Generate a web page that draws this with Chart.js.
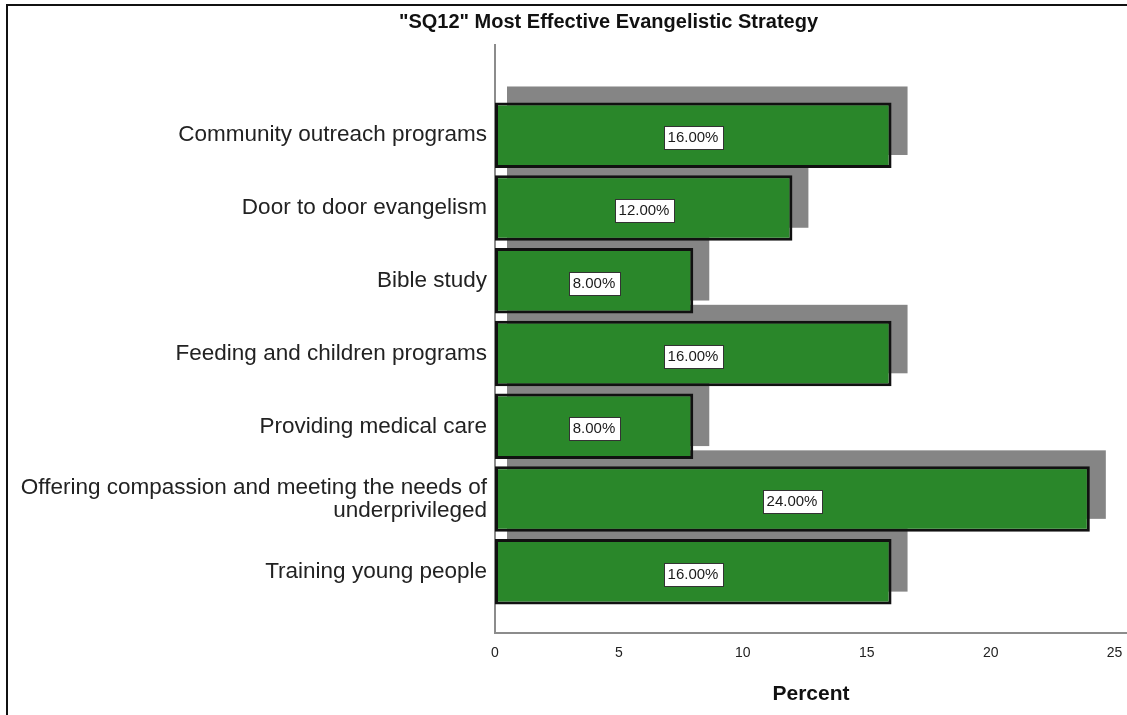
<!DOCTYPE html>
<html>
<head>
<meta charset="utf-8">
<script src="https://cdn.jsdelivr.net/npm/chart.js@4.4.1/dist/chart.umd.min.js"></script>
<style>
  html, body { margin: 0; padding: 0; background: #fff; overflow: hidden; }
  #wrap { position: relative; width: 1127px; height: 715px; }
</style>
</head>
<body>
<div id="wrap"><canvas id="chart" width="1127" height="715"></canvas></div>
<script>
// Strategy categories, top to bottom
const categories = [
  'Community outreach programs',
  'Door to door evangelism',
  'Bible study',
  'Feeding and children programs',
  'Providing medical care',
  ['Offering compassion and meeting the needs of', 'underprivileged'],
  'Training young people'
];
// Share of respondents (%)
const percents = [16, 12, 8, 16, 8, 24, 16];
const percentTicks = [0, 5, 10, 15, 20, 25];
const percentMax = 25.5;

const FONT = '"Liberation Sans", Arial, sans-serif';

// Outer frame lines (left and top edges)
const framePlugin = {
  id: 'frame',
  beforeDraw(chart) {
    const ctx = chart.ctx;
    ctx.save();
    ctx.fillStyle = '#fff';
    ctx.fillRect(0, 0, chart.width, chart.height);
    ctx.strokeStyle = '#111';
    ctx.lineWidth = 2;
    ctx.beginPath();
    ctx.moveTo(7, chart.height);
    ctx.lineTo(7, 5);
    ctx.lineTo(chart.width, 5);
    ctx.stroke();
    ctx.restore();
  }
};

// Center the chart title over the right part of the canvas
const titleSpanPlugin = {
  id: 'titleSpan',
  afterLayout(chart) {
    if (chart.titleBlock) chart.titleBlock.left = 90;
  }
};

// Gray drop-shadow behind each bar, offset up and to the right
const shadowPlugin = {
  id: 'barShadow',
  beforeDatasetsDraw(chart) {
    const ctx = chart.ctx;
    const meta = chart.getDatasetMeta(0);
    ctx.save();
    ctx.fillStyle = '#858585';
    meta.data.forEach(bar => {
      const p = bar.getProps(['x', 'y', 'base', 'height'], true);
      const top = p.y - p.height / 2;
      const bottom = p.y + p.height / 2;
      ctx.fillRect(p.base + 12, top - 16, (p.x + 16) - (p.base + 12), (bottom - 13) - (top - 16));
    });
    ctx.restore();
  }
};

// Boxed value labels in the middle of each bar
const valueLabelPlugin = {
  id: 'valueLabels',
  afterDatasetsDraw(chart) {
    const ctx = chart.ctx;
    const meta = chart.getDatasetMeta(0);
    ctx.save();
    ctx.font = '15px ' + FONT;
    ctx.textAlign = 'center';
    ctx.textBaseline = 'middle';
    meta.data.forEach((bar, i) => {
      const p = bar.getProps(['x', 'y', 'base'], true);
      const text = percents[i].toFixed(2) + '%';
      const w = Math.round(ctx.measureText(text).width + 8);
      const h = 23;
      const cx = Math.round((p.base + p.x) / 2);
      const cy = Math.round(p.y) + 2;
      const left = Math.round(cx - w / 2);
      const top = Math.round(cy - h / 2);
      ctx.fillStyle = '#fff';
      ctx.fillRect(left, top, w, h);
      ctx.strokeStyle = '#333';
      ctx.lineWidth = 1;
      ctx.strokeRect(left + 0.5, top + 0.5, w, h);
      ctx.fillStyle = '#1a1a1a';
      ctx.fillText(text, cx, cy + 1);
    });
    ctx.restore();
  }
};

new Chart(document.getElementById('chart'), {
  type: 'bar',
  data: {
    datasets: [{
      data: percents.map((v, i) => ({ x: v, y: i })),
      backgroundColor: '#2a872a',
      borderColor: '#111',
      borderWidth: 3,
      borderSkipped: false,
      categoryPercentage: 1,
      barPercentage: 0.9
    }]
  },
  options: {
    indexAxis: 'y',
    responsive: false,
    animation: false,
    layout: { padding: 0 },
    plugins: {
      legend: { display: false },
      tooltip: { enabled: false },
      title: {
        display: true,
        text: '"SQ12" Most Effective Evangelistic Strategy',
        color: '#111',
        font: { family: FONT, size: 20, weight: 'bold', lineHeight: 1.2 },
        padding: { top: 10, bottom: 11 }
      }
    },
    scales: {
      x: {
        type: 'linear',
        min: 0,
        max: percentMax,
        offset: false,
        grid: { display: false, drawTicks: false },
        border: { display: true, color: '#8c8c8c', width: 2 },
        afterBuildTicks(scale) {
          scale.ticks = percentTicks.concat([percentMax]).map(v => ({ value: v }));
        },
        ticks: {
          color: '#222',
          padding: 12,
          autoSkip: false,
          maxRotation: 0,
          font: { family: FONT, size: 14 },
          callback: v => (percentTicks.includes(v) ? String(v) : '')
        },
        title: {
          display: true,
          text: 'Percent',
          color: '#111',
          font: { family: FONT, size: 21, weight: 'bold', lineHeight: 1.2 },
          padding: { top: 0, bottom: 8 }
        },
        afterFit(scale) {
          scale.height = 82;
          scale.paddingLeft = 0;
          scale.paddingRight = 0;
        }
      },
      y: {
        type: 'linear',
        reverse: true,
        offset: false,
        min: -1.24,
        max: 6.84,
        grid: { display: false, drawTicks: false },
        border: { display: true, color: '#8c8c8c', width: 2 },
        afterBuildTicks(scale) {
          scale.ticks = categories.map((c, i) => ({ value: i }));
        },
        ticks: {
          color: '#222',
          padding: 8,
          autoSkip: false,
          font: { family: FONT, size: 22.5, lineHeight: 1.02 },
          callback: v => categories[v]
        },
        afterFit(scale) {
          scale.width = 495;
          scale.paddingTop = 0;
          scale.paddingBottom = 0;
        }
      }
    }
  },
  plugins: [framePlugin, titleSpanPlugin, shadowPlugin, valueLabelPlugin]
});
</script>
</body>
</html>
